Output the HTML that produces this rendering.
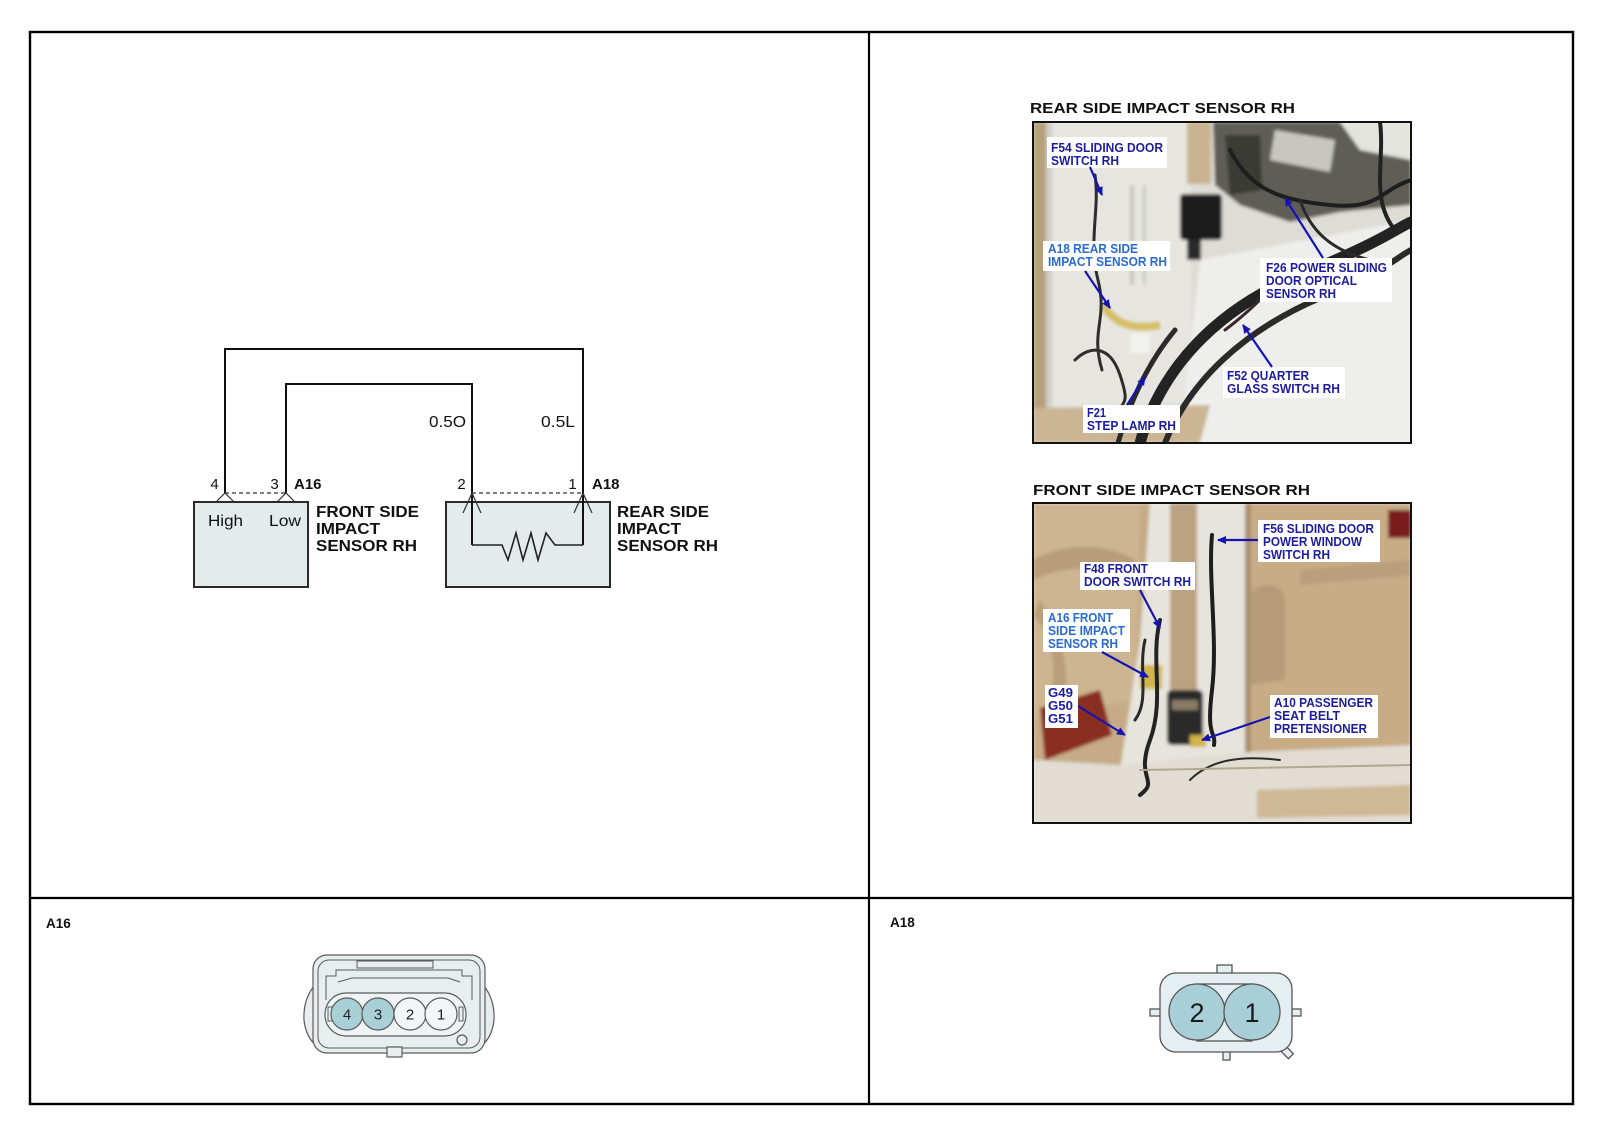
<!DOCTYPE html>
<html>
<head>
<meta charset="utf-8">
<style>
html,body{margin:0;padding:0;background:#fff;}
body{width:1600px;height:1143px;overflow:hidden;}
svg{display:block;}
text{font-family:"Liberation Sans",Arial,sans-serif;}
</style>
</head>
<body>
<svg width="1600" height="1143" viewBox="0 0 1600 1143" xmlns="http://www.w3.org/2000/svg">
<defs>
  <marker id="ah" markerWidth="10" markerHeight="10" refX="8" refY="5" orient="auto" markerUnits="userSpaceOnUse">
    <path d="M0,1 L9,5 L0,9 Z" fill="#1414b4"/>
  </marker>
  <clipPath id="c1"><rect x="1033" y="122" width="378" height="321"/></clipPath>
  <clipPath id="c2"><rect x="1033" y="503" width="378" height="320"/></clipPath>
  <filter id="bl" x="-5%" y="-5%" width="110%" height="110%"><feGaussianBlur stdDeviation="1.6"/></filter>
</defs>

<!-- Frame -->
<rect x="30" y="32" width="1543" height="1072" fill="none" stroke="#000" stroke-width="2.4"/>
<line x1="869" y1="32" x2="869" y2="1104" stroke="#000" stroke-width="2.2"/>
<line x1="30" y1="898" x2="1573" y2="898" stroke="#000" stroke-width="2.2"/>

<!-- ============ SCHEMATIC ============ -->
<g>
  <!-- boxes -->
  <rect x="194" y="502" width="114" height="85" fill="#e3ebed" stroke="#2a2a2a" stroke-width="2"/>
  <rect x="446" y="502" width="164" height="85" fill="#e3ebed" stroke="#2a2a2a" stroke-width="2"/>
  <!-- wires -->
  <polyline points="225,493 225,349 583,349 583,545" fill="none" stroke="#111" stroke-width="2"/>
  <polyline points="286,493 286,384 472,384 472,545" fill="none" stroke="#111" stroke-width="2"/>
  <!-- resistor -->
  <polyline points="472,545 502,545 508,560 516,533 523,560 531,533 538,560 546,533 555,545 583,545" fill="none" stroke="#222" stroke-width="1.6"/>
  <!-- dashed connector lines -->
  <line x1="225" y1="493" x2="286" y2="493" stroke="#333" stroke-width="1.2" stroke-dasharray="4,3"/>
  <line x1="472" y1="493" x2="583" y2="493" stroke="#333" stroke-width="1.2" stroke-dasharray="4,3"/>
  <!-- pin marks A16 -->
  <polyline points="216,502 225,493 234,502" fill="none" stroke="#333" stroke-width="1.2"/>
  <polyline points="277,502 286,493 295,502" fill="none" stroke="#333" stroke-width="1.2"/>
  <!-- pin marks A18 -->
  <polyline points="463,513 472,493 481,513" fill="none" stroke="#333" stroke-width="1.2"/>
  <polyline points="574,513 583,493 592,513" fill="none" stroke="#333" stroke-width="1.2"/>

  <!-- labels -->
  <text x="214.5" y="489" font-size="15" text-anchor="middle" fill="#111">4</text>
  <text x="274.5" y="489" font-size="15" text-anchor="middle" fill="#111">3</text>
  <text x="294" y="489" font-size="15" font-weight="bold" fill="#111">A16</text>
  <text x="461.5" y="489" font-size="15" text-anchor="middle" fill="#111">2</text>
  <text x="572.5" y="489" font-size="15" text-anchor="middle" fill="#111">1</text>
  <text x="592" y="489" font-size="15" font-weight="bold" fill="#111">A18</text>

  <text x="429" y="427" font-size="16" fill="#111" textLength="37" lengthAdjust="spacingAndGlyphs">0.5O</text>
  <text x="541" y="427" font-size="16" fill="#111" textLength="34" lengthAdjust="spacingAndGlyphs">0.5L</text>

  <text x="208" y="526" font-size="16" fill="#111" textLength="35" lengthAdjust="spacingAndGlyphs">High</text>
  <text x="269" y="526" font-size="16" fill="#111" textLength="32" lengthAdjust="spacingAndGlyphs">Low</text>

  <g font-size="16" font-weight="bold" fill="#111">
    <text x="316" y="517" textLength="103" lengthAdjust="spacingAndGlyphs">FRONT SIDE</text>
    <text x="316" y="534" textLength="64" lengthAdjust="spacingAndGlyphs">IMPACT</text>
    <text x="316" y="551" textLength="101" lengthAdjust="spacingAndGlyphs">SENSOR RH</text>
    <text x="617" y="517" textLength="92" lengthAdjust="spacingAndGlyphs">REAR SIDE</text>
    <text x="617" y="534" textLength="64" lengthAdjust="spacingAndGlyphs">IMPACT</text>
    <text x="617" y="551" textLength="101" lengthAdjust="spacingAndGlyphs">SENSOR RH</text>
  </g>
</g>

<!-- ============ PHOTO TITLES ============ -->
<text x="1030" y="113" font-size="15" font-weight="bold" fill="#111" textLength="265" lengthAdjust="spacingAndGlyphs">REAR SIDE IMPACT SENSOR RH</text>
<text x="1033" y="495" font-size="15" font-weight="bold" fill="#111" textLength="277" lengthAdjust="spacingAndGlyphs">FRONT SIDE IMPACT SENSOR RH</text>

<!-- ============ PHOTO 1 ============ -->
<g clip-path="url(#c1)">
  <g filter="url(#bl)">
    <rect x="1033" y="122" width="378" height="321" fill="#dedcd5"/>
    <rect x="1046" y="122" width="145" height="290" fill="#e6e5e0"/>
    <rect x="1033" y="122" width="13" height="321" fill="#b7a07b"/>
    <rect x="1046" y="122" width="6" height="300" fill="#cfcfc9"/>
    <rect x="1130" y="185" width="4" height="100" fill="#c6c6c0"/>
    <rect x="1143" y="185" width="3" height="100" fill="#cacac4"/>
    <!-- lower right light area -->
    <path d="M1200,260 L1411,220 L1411,443 L1180,443 Z" fill="#eeeeec"/>
    <!-- belt strip -->
    <rect x="1187" y="122" width="24" height="62" fill="#c9b391"/>
    <!-- top right dark cluster -->
    <path d="M1213,122 L1411,122 L1411,205 L1340,212 L1290,222 L1240,205 L1215,185 Z" fill="#5e5d56"/>
    <path d="M1275,130 L1335,140 L1330,172 L1270,160 Z" fill="#c8c7bf"/>
    <path d="M1225,135 L1260,135 L1262,190 L1230,195 Z" fill="#3a3a36"/>
    <path d="M1340,122 L1411,122 L1411,160 L1360,150 Z" fill="#e4e4df"/>
    <!-- black module -->
    <rect x="1180" y="194" width="42" height="46" rx="4" fill="#1f1f1f"/>
    <rect x="1187" y="240" width="14" height="20" fill="#2a2a2a"/>
    <!-- bottom beige floor -->
    <path d="M1033,408 L1210,405 L1200,443 L1033,443 Z" fill="#cbb594"/>
    <!-- yellow tape -->
    <path d="M1103,305 C1115,325 1135,330 1160,325" fill="none" stroke="#d5bf62" stroke-width="8"/>
    <rect x="1130" y="333" width="20" height="20" fill="#f2f2ee"/>
  </g>
  <!-- wires -->
  <g fill="none" stroke-linecap="round">
    <path d="M1140,443 C1160,370 1215,310 1300,275 S1390,232 1411,222" stroke="#232323" stroke-width="11"/>
    <path d="M1165,443 C1190,380 1245,330 1320,298 S1395,258 1411,250" stroke="#2b2b2b" stroke-width="6"/>
    <path d="M1118,443 C1130,400 1150,360 1175,330" stroke="#2a2a2a" stroke-width="5"/>
    <path d="M1095,175 C1100,210 1088,240 1098,280 S1090,330 1102,370" stroke="#2d2d2d" stroke-width="3"/>
    <path d="M1075,360 C1090,345 1110,345 1120,375 S1125,400 1110,420" stroke="#2d2d2d" stroke-width="3"/>
    <path d="M1230,150 C1250,190 1280,200 1330,205 S1380,190 1411,180" stroke="#1e1e1e" stroke-width="4"/>
    <path d="M1380,122 C1385,160 1370,200 1395,230" stroke="#222" stroke-width="4"/>
    <path d="M1300,200 C1310,230 1330,250 1370,260" stroke="#2a2a2a" stroke-width="3"/>
    <path d="M1225,330 C1245,315 1260,300 1270,290" stroke="#3a2a2a" stroke-width="3"/>
  </g>
</g>
<rect x="1033" y="122" width="378" height="321" fill="none" stroke="#111" stroke-width="2"/>

<!-- photo 1 labels -->
<g font-size="13" font-weight="bold">
  <rect x="1047" y="137" width="120" height="31" fill="#fff"/>
  <text x="1051" y="152" fill="#1c1ca0" textLength="112" lengthAdjust="spacingAndGlyphs">F54 SLIDING DOOR</text>
  <text x="1051" y="165" fill="#1c1ca0" textLength="68" lengthAdjust="spacingAndGlyphs">SWITCH RH</text>

  <rect x="1043" y="241" width="127" height="30" fill="#fff"/>
  <text x="1048" y="253" fill="#2a6bd1" textLength="90" lengthAdjust="spacingAndGlyphs">A18 REAR SIDE</text>
  <text x="1048" y="266" fill="#2a6bd1" textLength="119" lengthAdjust="spacingAndGlyphs">IMPACT SENSOR RH</text>

  <rect x="1260" y="258" width="132" height="44" fill="#fff"/>
  <text x="1266" y="272" fill="#1c1ca0" textLength="121" lengthAdjust="spacingAndGlyphs">F26 POWER SLIDING</text>
  <text x="1266" y="285" fill="#1c1ca0" textLength="91" lengthAdjust="spacingAndGlyphs">DOOR OPTICAL</text>
  <text x="1266" y="298" fill="#1c1ca0" textLength="70" lengthAdjust="spacingAndGlyphs">SENSOR RH</text>

  <rect x="1223" y="367" width="122" height="31" fill="#fff"/>
  <text x="1227" y="380" fill="#1c1ca0" textLength="82" lengthAdjust="spacingAndGlyphs">F52 QUARTER</text>
  <text x="1227" y="393" fill="#1c1ca0" textLength="113" lengthAdjust="spacingAndGlyphs">GLASS SWITCH RH</text>

  <rect x="1083" y="405" width="97" height="28" fill="#fff"/>
  <text x="1087" y="417" fill="#1c1ca0" textLength="19" lengthAdjust="spacingAndGlyphs">F21</text>
  <text x="1087" y="430" fill="#1c1ca0" textLength="89" lengthAdjust="spacingAndGlyphs">STEP LAMP RH</text>
</g>
<g stroke="#1414b4" stroke-width="2.2" fill="none" marker-end="url(#ah)">
  <line x1="1090" y1="167" x2="1102" y2="195"/>
  <line x1="1085" y1="271" x2="1110" y2="308"/>
  <line x1="1323" y1="258" x2="1285" y2="198"/>
  <line x1="1272" y1="367" x2="1243" y2="325"/>
  <line x1="1127" y1="405" x2="1145" y2="377"/>
</g>

<!-- ============ PHOTO 2 ============ -->
<g clip-path="url(#c2)">
  <g filter="url(#bl)">
    <rect x="1033" y="503" width="378" height="320" fill="#c6ab86"/>
    <!-- left seat -->
    <path d="M1033,503 L1140,503 L1135,700 L1033,720 Z" fill="#cdb592"/>
    <path d="M1033,560 C1070,540 1110,545 1135,560 L1135,575 C1100,565 1065,565 1033,580 Z" fill="#b89d78"/>
    <path d="M1040,600 C1060,630 1075,680 1060,700 L1048,700 C1060,670 1050,630 1033,615 Z" fill="#b99e79"/>
    <!-- red reflector left -->
    <path d="M1040,708 L1100,690 L1112,735 L1045,760 Z" fill="#8a2d24"/>
    <!-- pillar -->
    <path d="M1150,503 L1245,503 L1247,760 L1120,770 L1140,640 Z" fill="#e6e4dc"/>
    <!-- belt -->
    <rect x="1170" y="503" width="27" height="200" fill="#bba283"/>
    <!-- right door panel -->
    <rect x="1245" y="503" width="166" height="250" fill="#c8ac86"/>
    <rect x="1245" y="503" width="6" height="250" fill="#a98f6c"/>
    <path d="M1250,600 C1250,580 1285,580 1285,600 L1285,680 L1250,685 Z" fill="#b69b76"/>
    <path d="M1300,570 L1411,560 L1411,575 L1300,585 Z" fill="#b99f7a"/>
    <!-- red top right -->
    <rect x="1388" y="510" width="23" height="28" fill="#7a1f1c"/>
    <!-- floor -->
    <path d="M1033,760 L1120,765 L1250,752 L1411,745 L1411,823 L1033,823 Z" fill="#e1ddd3"/>
    <path d="M1257,790 L1411,785 L1411,815 L1257,818 Z" fill="#cfb895"/>
    <!-- buckle -->
    <rect x="1167" y="690" width="36" height="55" rx="5" fill="#2a2a2a"/>
    <rect x="1172" y="700" width="26" height="10" fill="#8a7a66"/>
    <!-- yellow connectors -->
    <rect x="1140" y="665" width="22" height="24" fill="#d3b44c"/>
    <rect x="1190" y="735" width="16" height="12" fill="#d3b44c"/>
  </g>
  <g fill="none" stroke-linecap="round">
    <path d="M1212,535 C1208,580 1218,640 1212,690 S1216,730 1214,745" stroke="#1e1e1e" stroke-width="4"/>
    <path d="M1160,620 C1150,660 1165,700 1150,740 S1160,780 1140,795" stroke="#232323" stroke-width="4"/>
    <path d="M1145,640 C1138,670 1150,700 1135,720" stroke="#2a2a2a" stroke-width="3"/>
    <path d="M1190,780 C1210,760 1240,755 1280,760" stroke="#2a2a2a" stroke-width="2"/>
    <path d="M1140,770 L1411,765" stroke="#b0a890" stroke-width="2"/>
  </g>
</g>
<rect x="1033" y="503" width="378" height="320" fill="none" stroke="#111" stroke-width="2"/>

<!-- photo 2 labels -->
<g font-size="13" font-weight="bold">
  <rect x="1258" y="520" width="122" height="42" fill="#fff"/>
  <text x="1263" y="533" fill="#1c1ca0" textLength="111" lengthAdjust="spacingAndGlyphs">F56 SLIDING DOOR</text>
  <text x="1263" y="546" fill="#1c1ca0" textLength="99" lengthAdjust="spacingAndGlyphs">POWER WINDOW</text>
  <text x="1263" y="559" fill="#1c1ca0" textLength="67" lengthAdjust="spacingAndGlyphs">SWITCH RH</text>

  <rect x="1080" y="562" width="115" height="28" fill="#fff"/>
  <text x="1084" y="573" fill="#1c1ca0" textLength="64" lengthAdjust="spacingAndGlyphs">F48 FRONT</text>
  <text x="1084" y="586" fill="#1c1ca0" textLength="107" lengthAdjust="spacingAndGlyphs">DOOR SWITCH RH</text>

  <rect x="1043" y="609" width="87" height="43" fill="#fff"/>
  <text x="1048" y="622" fill="#2a6bd1" textLength="65" lengthAdjust="spacingAndGlyphs">A16 FRONT</text>
  <text x="1048" y="635" fill="#2a6bd1" textLength="77" lengthAdjust="spacingAndGlyphs">SIDE IMPACT</text>
  <text x="1048" y="648" fill="#2a6bd1" textLength="70" lengthAdjust="spacingAndGlyphs">SENSOR RH</text>

  <rect x="1045" y="685" width="33" height="43" fill="#fff"/>
  <text x="1048" y="697" fill="#1c1ca0" textLength="25" lengthAdjust="spacingAndGlyphs">G49</text>
  <text x="1048" y="710" fill="#1c1ca0" textLength="25" lengthAdjust="spacingAndGlyphs">G50</text>
  <text x="1048" y="723" fill="#1c1ca0" textLength="25" lengthAdjust="spacingAndGlyphs">G51</text>

  <rect x="1270" y="695" width="108" height="43" fill="#fff"/>
  <text x="1274" y="707" fill="#1c1ca0" textLength="99" lengthAdjust="spacingAndGlyphs">A10 PASSENGER</text>
  <text x="1274" y="720" fill="#1c1ca0" textLength="66" lengthAdjust="spacingAndGlyphs">SEAT BELT</text>
  <text x="1274" y="733" fill="#1c1ca0" textLength="93" lengthAdjust="spacingAndGlyphs">PRETENSIONER</text>
</g>
<g stroke="#1414b4" stroke-width="2.2" fill="none" marker-end="url(#ah)">
  <line x1="1258" y1="540" x2="1218" y2="540"/>
  <line x1="1140" y1="590" x2="1160" y2="628"/>
  <line x1="1102" y1="652" x2="1148" y2="677"/>
  <line x1="1078" y1="706" x2="1125" y2="735"/>
  <line x1="1270" y1="717" x2="1202" y2="740"/>
</g>

<!-- ============ BOTTOM LABELS ============ -->
<text x="46" y="928" font-size="13.5" font-weight="bold" fill="#111">A16</text>
<text x="890" y="927" font-size="13.5" font-weight="bold" fill="#111">A18</text>

<!-- ============ A16 CONNECTOR ============ -->
<g stroke="#5a5a5a" stroke-width="1.2">
  <path d="M314,986 Q303,1000 304,1020 Q306,1038 317,1046" fill="#e8eeef"/>
  <path d="M484,986 Q495,1000 494,1020 Q492,1038 481,1046" fill="#e8eeef"/>
  <rect x="313" y="955" width="172" height="98" rx="14" fill="#e8eeef"/>
  <rect x="318" y="960" width="162" height="88" rx="11" fill="none" stroke-width="1"/>
  <rect x="357" y="961" width="76" height="7" fill="#e8eeef" stroke-width="1"/>
  <path d="M326,1000 L326,976 L336,976 L336,970 L462,970 L462,976 L472,976 L472,1000" fill="none" stroke-width="1"/>
  <path d="M338,982 L352,978 L448,978 L460,982" fill="none" stroke-width="1"/>
  <rect x="325" y="993" width="141" height="43" rx="21" fill="#eef3f4"/>
  <rect x="328" y="1007" width="4" height="14" fill="#e8eeef" stroke-width="1"/>
  <rect x="459" y="1007" width="4" height="14" fill="#e8eeef" stroke-width="1"/>
  <circle cx="347" cy="1014" r="16" fill="#a9cfd7"/>
  <circle cx="378" cy="1014" r="16" fill="#a9cfd7"/>
  <circle cx="410" cy="1014" r="16" fill="#f3f6f6"/>
  <circle cx="441" cy="1014" r="16" fill="#f3f6f6"/>
  <rect x="387" y="1047" width="15" height="10" fill="#e8eeef"/>
  <circle cx="462" cy="1040" r="5" fill="#e8eeef"/>
</g>
<g font-size="15" fill="#222" text-anchor="middle">
  <text x="347" y="1019.5">4</text>
  <text x="378" y="1019.5">3</text>
  <text x="410" y="1019.5">2</text>
  <text x="441" y="1019.5">1</text>
</g>

<!-- ============ A18 CONNECTOR ============ -->
<g stroke="#555" stroke-width="1.3" fill="#e5eff1">
  <rect x="1217" y="965" width="15" height="9"/>
  <rect x="1150" y="1009" width="11" height="7"/>
  <rect x="1291" y="1009" width="10" height="7"/>
  <rect x="1223" y="1051" width="7" height="9"/>
  <rect x="1284" y="1048" width="7" height="10" transform="rotate(-45 1287 1053)"/>
  <rect x="1160" y="973" width="132" height="79" rx="16"/>
  <rect x="1197" y="984" width="55" height="57" fill="none"/>
  <circle cx="1197" cy="1012" r="28" fill="#a8cfd7"/>
  <circle cx="1252" cy="1012" r="28" fill="#a8cfd7"/>
</g>
<g font-size="27" fill="#1a1a1a" text-anchor="middle">
  <text x="1197" y="1022">2</text>
  <text x="1252" y="1022">1</text>
</g>
</svg>
</body>
</html>
